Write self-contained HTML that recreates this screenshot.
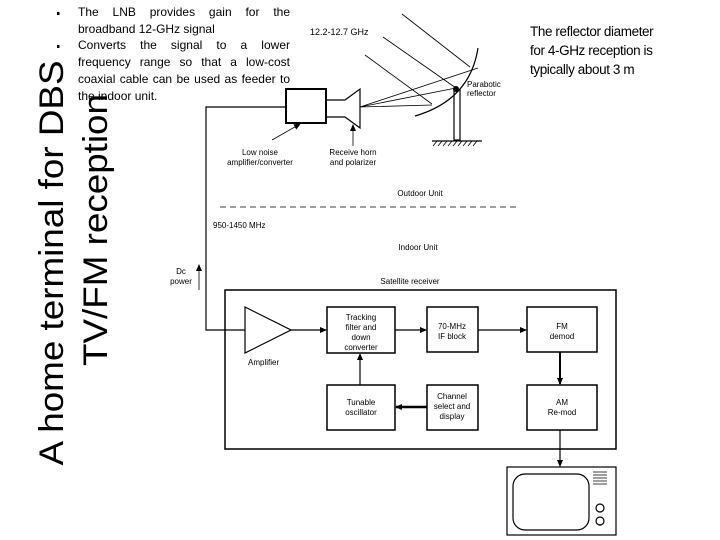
<!DOCTYPE html>
<html><head><meta charset="utf-8"><style>
body{margin:0;background:#fff;width:720px;height:540px;overflow:hidden;position:relative;font-family:"Liberation Sans",sans-serif}
.bul{position:absolute;left:78px;width:212px;font-size:12px;line-height:16.7px;text-align:justify;color:#000;font-family:"Liberation Sans Narrow","Liberation Sans",sans-serif}
.right{position:absolute;left:530px;top:22px;width:175px;font-size:13.5px;line-height:19px;color:#000;letter-spacing:-0.4px;font-family:"Liberation Sans Narrow","Liberation Sans",sans-serif}
</style></head><body>
<div class="bul" style="top:4px">The LNB provides gain for the broadband 12-GHz signal<br>Converts the signal to a lower frequency range so that a low-cost coaxial cable can be used as feeder to the indoor unit.</div>
<div class="right">The reflector diameter<br>for 4-GHz reception is<br>typically about 3 m</div>
<svg width="720" height="540" style="position:absolute;left:0;top:0" font-family="Liberation Sans, sans-serif">
<defs><marker id="a" markerUnits="userSpaceOnUse" markerWidth="7" markerHeight="6" refX="6" refY="3" orient="auto"><path d="M0,0 L7,3 L0,6z" fill="#000"/></marker></defs>
<rect x="57" y="12" width="2.5" height="3" fill="#000"/><rect x="57" y="45" width="2.5" height="3" fill="#000"/>
<text transform="translate(63,263) rotate(-90)" font-size="34" text-anchor="middle" textLength="405" lengthAdjust="spacingAndGlyphs">A home terminal for DBS</text>
<text transform="translate(107,230) rotate(-90)" font-size="34" text-anchor="middle" textLength="272" lengthAdjust="spacingAndGlyphs">TV/FM reception</text>
<g stroke="#000" fill="none" stroke-width="1.2">
<rect x="286" y="89" width="40" height="34" stroke-width="2"/>
<path d="M326,100 H345 L360,89 V128 L345,117 H326"/>
<path d="M286,107 H206 V330 H245"/>
<path d="M360,107 L478,68 M360,107 L456,88 M360,107 L432,105" stroke-width="0.8"/>
<path d="M478,48 Q470,100 415,116"/>
<path d="M402,14 L470,67 M383,37 L456,88 M365,55 L432,104" stroke-width="0.8"/>
<rect x="454" y="90" width="6" height="50"/>
<path d="M432,141 H482"/>
<path d="M433,146 l4,-5 M438,146 l4,-5 M443,146 l4,-5 M448,146 l4,-5 M453,146 l4,-5 M458,146 l4,-5 M463,146 l4,-5 M468,146 l4,-5 M473,146 l4,-5" stroke-width="0.8"/>
<path d="M272,140 L300,124" marker-end="url(#a)" stroke-width="0.8"/>
<path d="M353,146 V125" marker-end="url(#a)" stroke-width="0.8"/>
<path d="M220,207 H520" stroke-dasharray="6,4" stroke-width="0.8"/>
<path d="M199,290 V265" marker-end="url(#a)" stroke-width="0.8"/>
<rect x="225" y="290" width="391" height="159" stroke-width="1.5"/>
<path d="M245,307 L291,330 L245,353 Z"/>
<path d="M291,330 H326" marker-end="url(#a)"/>
<rect x="327" y="307" width="68" height="46" stroke-width="1.5"/>
<path d="M395,330 H426" marker-end="url(#a)"/>
<rect x="427" y="307" width="51" height="45" stroke-width="1.5"/>
<path d="M478,330 H526" marker-end="url(#a)"/>
<rect x="527" y="307" width="70" height="45" stroke-width="1.5"/>
<path d="M560,352 V384" marker-end="url(#a)" stroke-width="2"/>
<rect x="327" y="385" width="68" height="45" stroke-width="1.5"/>
<rect x="427" y="385" width="51" height="45" stroke-width="1.5"/>
<rect x="527" y="385" width="70" height="45" stroke-width="1.5"/>
<path d="M360,385 V354" marker-end="url(#a)"/>
<path d="M427,407 H396" marker-end="url(#a)" stroke-width="2.5"/>
<path d="M560,430 V466" marker-end="url(#a)"/>
<rect x="507" y="467" width="109" height="68" stroke-width="1.2"/>
<rect x="513" y="474" width="76" height="56" rx="12"/>
<path d="M593,472 H607 M593,475 H607 M593,478 H607 M593,481 H607 M593,484 H607" stroke-width="0.8"/>
<circle cx="600" cy="508" r="4"/><circle cx="600" cy="521" r="4"/>
</g>
<circle cx="456" cy="89" r="3" fill="#000"/>
<g font-size="8" fill="#000">
<text x="310" y="35" font-size="9">12.2-12.7 GHz</text>
<text x="467" y="87">Parabotic</text><text x="467" y="96">reflector</text>
<text x="260" y="155" text-anchor="middle">Low noise</text><text x="260" y="165" text-anchor="middle">amplifier/converter</text>
<text x="353" y="155" text-anchor="middle">Receive horn</text><text x="353" y="165" text-anchor="middle">and polarizer</text>
<text x="420" y="196" text-anchor="middle">Outdoor Unit</text>
<text x="213" y="228">950-1450 MHz</text>
<text x="418" y="250" text-anchor="middle">Indoor Unit</text>
<text x="181" y="274" text-anchor="middle">Dc</text><text x="181" y="284" text-anchor="middle">power</text>
<text x="410" y="284" text-anchor="middle">Satellite receiver</text>
<text x="248" y="365">Amplifier</text>
<text x="361" y="320" text-anchor="middle">Tracking</text><text x="361" y="330" text-anchor="middle">filter and</text><text x="361" y="340" text-anchor="middle">down</text><text x="361" y="350" text-anchor="middle">converter</text>
<text x="452" y="329" text-anchor="middle">70-MHz</text><text x="452" y="339" text-anchor="middle">IF block</text>
<text x="562" y="329" text-anchor="middle">FM</text><text x="562" y="339" text-anchor="middle">demod</text>
<text x="361" y="405" text-anchor="middle">Tunable</text><text x="361" y="415" text-anchor="middle">oscillator</text>
<text x="452" y="399" text-anchor="middle">Channel</text><text x="452" y="409" text-anchor="middle">select and</text><text x="452" y="419" text-anchor="middle">display</text>
<text x="562" y="405" text-anchor="middle">AM</text><text x="562" y="415" text-anchor="middle">Re-mod</text>
</g>
</svg>
</body></html>
